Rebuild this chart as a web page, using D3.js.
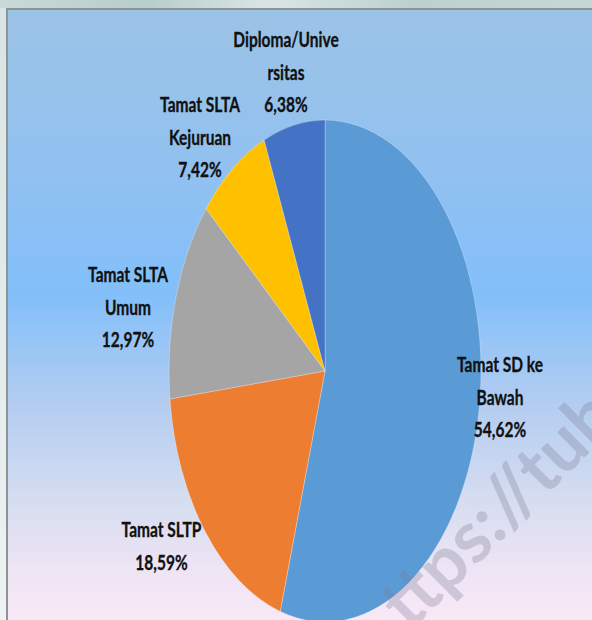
<!DOCTYPE html>
<html>
<head>
<meta charset="utf-8">
<script src="https://cdn.jsdelivr.net/npm/d3@7"></script>
<style>
  html, body { margin: 0; padding: 0; background: #ffffff; }
  svg { display: block; }
</style>
</head>
<body>
<script>
// ---- data ----
const categories = ["Tamat SD ke Bawah", "Tamat SLTP", "Tamat SLTA Umum", "Tamat SLTA Kejuruan", "Diploma/Universitas"];
const values = [54.62, 18.59, 12.97, 7.42, 6.38];
const labelLines = [
  ["Tamat SD ke", "Bawah", "54,62%"],
  ["Tamat SLTP", "18,59%"],
  ["Tamat SLTA", "Umum", "12,97%"],
  ["Tamat SLTA", "Kejuruan", "7,42%"],
  ["Diploma/Unive", "rsitas", "6,38%"]
];
const colors = ["#5b9bd5", "#ed7d31", "#a5a5a5", "#ffc000", "#4472c4"];
const watermark = "ttps://tub";

const W = 592, H = 620;
const svg = d3.select("body").append("svg").attr("width", W).attr("height", H);
const defs = svg.append("defs");

// outside background (slide)
const og = defs.append("linearGradient").attr("id", "outer").attr("x1", 0).attr("x2", 1).attr("y1", 0).attr("y2", 0);
og.append("stop").attr("offset", "0%").attr("stop-color", "#c9d9d8");
og.append("stop").attr("offset", "25%").attr("stop-color", "#b7cecc");
og.append("stop").attr("offset", "45%").attr("stop-color", "#d9e5e4");
og.append("stop").attr("offset", "70%").attr("stop-color", "#bcd1cf");
og.append("stop").attr("offset", "100%").attr("stop-color", "#c6d7d6");
svg.append("rect").attr("width", W).attr("height", H).attr("fill", "url(#outer)");
const lg = defs.append("linearGradient").attr("id", "left").attr("x1", 0).attr("x2", 0).attr("y1", 0).attr("y2", 1);
lg.append("stop").attr("offset", "0%").attr("stop-color", "#d8e4e3");
lg.append("stop").attr("offset", "100%").attr("stop-color", "#eef2f3");
svg.append("rect").attr("x", 0).attr("y", 8).attr("width", 7).attr("height", H).attr("fill", "url(#left)");

// chart area gradient
const bg = defs.append("linearGradient").attr("id", "bg").attr("x1", 0).attr("x2", 0).attr("y1", 0).attr("y2", 1);
[["0%", "#9cc3e6"], ["25%", "#92c1f0"], ["46%", "#82bffa"], ["64%", "#b4cdf0"], ["78%", "#d3dcf0"], ["90%", "#ede4f4"], ["100%", "#fbe9f7"]]
  .forEach(([o, c]) => bg.append("stop").attr("offset", o).attr("stop-color", c));
svg.append("rect").attr("x", 7).attr("y", 9).attr("width", W).attr("height", H)
  .attr("fill", "url(#bg)").attr("stroke", "#8c9494").attr("stroke-width", 2);

// pie (elliptical)
const cx = 325, cy = 371, rx = 156, ry = 251;
const pie = d3.pie().sort(null).value(d => d);
const arcs = pie(values);
const arc = d3.arc().innerRadius(0).outerRadius(rx);
const g = svg.append("g").attr("transform", `translate(${cx},${cy}) scale(1,${ry / rx})`);
g.selectAll("path").data(arcs).join("path")
  .attr("d", arc)
  .attr("fill", (d, i) => colors[i])
  .attr("stroke", "#ffffff").attr("stroke-opacity", 0.35)
  .attr("stroke-width", 0.8).attr("vector-effect", "non-scaling-stroke");

// watermark (on top of the chart)
svg.append("text")
  .attr("transform", "translate(410,632) rotate(-45)")
  .attr("font-family", "Lato, 'Liberation Sans', sans-serif")
  .attr("font-weight", 700).attr("font-size", 72)
  .attr("fill", "#7a7a96").attr("fill-opacity", 0.3)
  .text(watermark);

// labels
const labelPos = [
  [500, 372],
  [161.5, 537],
  [128, 282],
  [200, 112],
  [286, 47]
];
const lineGap = 32.7;
labelLines.forEach((lines, i) => {
  const [lx, ly] = labelPos[i];
  const t = svg.append("g").attr("transform", `translate(${lx},${ly})`);
  lines.forEach((s, k) => {
    t.append("text")
      .attr("transform", `translate(0,${k * lineGap}) scale(1,1.36)`)
      .attr("text-anchor", "middle")
      .attr("font-family", "Lato, 'Open Sans', sans-serif")
      .attr("font-weight", 700)
      .attr("font-size", 15.5)
      .attr("fill", "#111111")
      .attr("stroke", "#111111").attr("stroke-width", 0.25)
      .text(s);
  });
});
</script>
</body>
</html>
